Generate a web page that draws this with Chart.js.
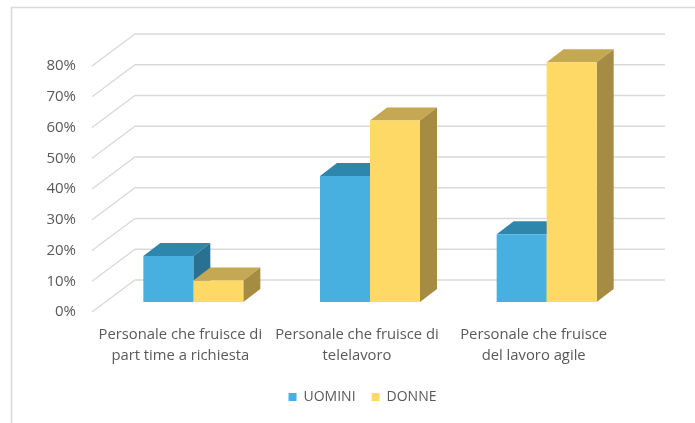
<!DOCTYPE html>
<html><head><meta charset="utf-8">
<script src="https://cdn.jsdelivr.net/npm/chart.js@4/dist/chart.umd.min.js"></script>
<style>html,body{margin:0;padding:0;background:#fff;}canvas{display:block;}</style>
</head><body>
<canvas id="c" width="695" height="423"></canvas>
<script>
const categories = [
  ["Personale che fruisce di", "part time a richiesta"],
  ["Personale che fruisce di", "telelavoro"],
  ["Personale che fruisce", "del lavoro agile"]
];
const seriesNames = ["UOMINI", "DONNE"];
const uomini = [15, 41, 22];
const donne = [7, 59, 78];
const yTicks = [0, 10, 20, 30, 40, 50, 60, 70, 80];

const frontColors = ["#47B0E0", "#FFD966"];
const topColors = ["#2F86AC", "#C4A852"];
const sideColors = ["#2A7191", "#A68B42"];

const WALL_DX = 43, WALL_DY = 32;
const BAR_SHIFT_X = 13, BAR_SHIFT_Y = 10;
const BAR_DX = 17, BAR_DY = 13;

function poly(ctx, pts, color) {
  ctx.beginPath();
  ctx.moveTo(pts[0][0], pts[0][1]);
  for (let k = 1; k < pts.length; k++) ctx.lineTo(pts[k][0], pts[k][1]);
  ctx.closePath();
  ctx.fillStyle = color;
  ctx.fill();
}

const threeD = {
  id: 'threeD',
  beforeDraw(chart) {
    const ctx = chart.ctx;
    ctx.save();
    ctx.strokeStyle = '#D9D9D9';
    ctx.lineWidth = 1.5;
    ctx.beginPath();
    ctx.moveTo(11.5, 423);
    ctx.lineTo(11.5, 7.5);
    ctx.lineTo(695, 7.5);
    ctx.stroke();
    ctx.restore();
  },
  beforeDatasetsDraw(chart) {
    const ctx = chart.ctx, ca = chart.chartArea, y = chart.scales.y;
    ctx.save();
    ctx.strokeStyle = '#D9D9D9';
    ctx.lineWidth = 1.3;
    yTicks.forEach(v => {
      const py = y.getPixelForValue(v);
      ctx.beginPath();
      ctx.moveTo(ca.left, py);
      ctx.lineTo(ca.left + WALL_DX, py - WALL_DY);
      ctx.lineTo(ca.right + WALL_DX, py - WALL_DY);
      ctx.stroke();
    });
    const n = chart.data.labels.length;
    for (let i = 0; i < n; i++) {
      for (let d = 0; d < chart.data.datasets.length; d++) {
        const el = chart.getDatasetMeta(d).data[i];
        const L = el.x - el.width / 2 + BAR_SHIFT_X;
        const R = el.x + el.width / 2 + BAR_SHIFT_X;
        const T = el.y - BAR_SHIFT_Y;
        const B = el.base - BAR_SHIFT_Y;
        poly(ctx, [[L, T], [L + BAR_DX, T - BAR_DY], [R + BAR_DX, T - BAR_DY], [R, T]], topColors[d]);
        poly(ctx, [[R, T], [R + BAR_DX, T - BAR_DY], [R + BAR_DX, B - BAR_DY], [R, B]], sideColors[d]);
        poly(ctx, [[L, T], [R, T], [R, B], [L, B]], frontColors[d]);
      }
    }
    ctx.restore();
    return false;
  }
};

const textColor = '#595959';
const fontFamily = "'Open Sans', sans-serif";

new Chart(document.getElementById('c'), {
  type: 'bar',
  data: {
    labels: categories,
    datasets: [
      { label: seriesNames[0], data: uomini, backgroundColor: frontColors[0], borderWidth: 0 },
      { label: seriesNames[1], data: donne, backgroundColor: frontColors[1], borderWidth: 0 }
    ]
  },
  options: {
    responsive: false,
    animation: false,
    devicePixelRatio: 1,
    layout: { padding: { left: 30, right: 0, top: 66, bottom: 9 } },
    datasets: { bar: { categoryPercentage: 0.566, barPercentage: 1 } },
    plugins: {
      legend: {
        position: 'bottom',
        labels: { boxWidth: 8, boxHeight: 8, padding: 16, color: textColor, font: { family: fontFamily, size: 14 } }
      },
      tooltip: { enabled: false }
    },
    scales: {
      x: {
        grid: { display: false, drawTicks: false },
        border: { display: false },
        ticks: { color: textColor, padding: 12, maxRotation: 0, autoSkip: false, font: { family: fontFamily, size: 14.8, lineHeight: '21px' } },
        afterFit(s) { s.height = 62; }
      },
      y: {
        min: 0, max: 80,
        grid: { display: false, drawTicks: false },
        border: { display: false },
        ticks: {
          stepSize: 10, padding: 16, color: textColor,
          font: { family: fontFamily, size: 15 },
          callback: v => v + '%'
        },
        afterFit(s) { s.width = 62; }
      },
      yR: {
        type: 'linear', position: 'right', display: true,
        grid: { display: false, drawTicks: false },
        border: { display: false },
        ticks: { display: false },
        afterFit(s) { s.width = 73; }
      }
    }
  },
  plugins: [threeD]
});
</script>
</body></html>
